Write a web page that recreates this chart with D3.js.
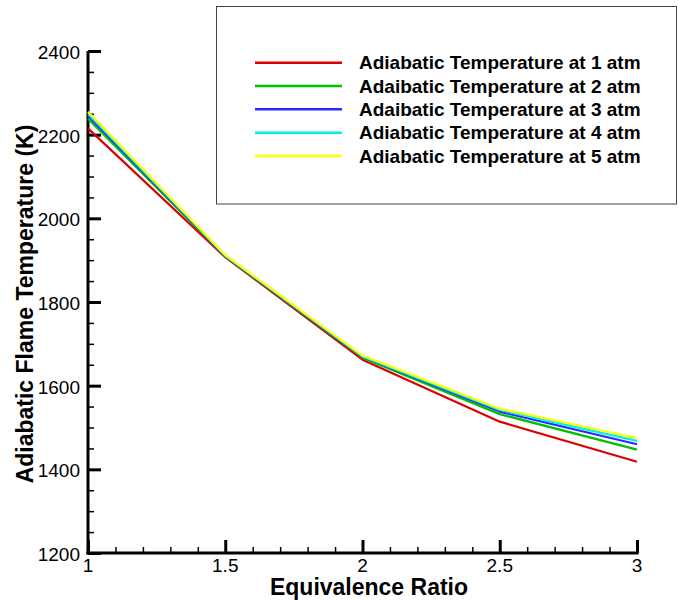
<!DOCTYPE html>
<html>
<head>
<meta charset="utf-8">
<script src="https://cdn.jsdelivr.net/npm/d3@7"></script>
<style>
  html, body { margin: 0; padding: 0; background: #fff; }
  svg { display: block; font-family: "Liberation Sans", Arial, sans-serif; }
</style>
</head>
<body>
<svg id="chart" width="678" height="600"></svg>
<script>
const phi = [1, 1.5, 2, 2.5, 3];
const t1atm = [2215, 1907, 1662, 1514, 1418];
const t2atm = [2238, 1909, 1667, 1532, 1447];
const t3atm = [2245, 1910, 1669, 1538, 1460];
const t4atm = [2250, 1911, 1670, 1542, 1468];
const t5atm = [2255, 1912, 1672, 1545, 1475];
const seriesNames = [
  "Adiabatic Temperature at 1 atm",
  "Adaibatic Temperature at 2 atm",
  "Adaibatic Temperature at 3 atm",
  "Adiabatic Temperature at 4 atm",
  "Adiabatic Temperature at 5 atm"
];
const seriesColors = ["#dd0000", "#00c000", "#2a2aff", "#00f0f0", "#ffff00"];
const xTicks = [1, 1.5, 2, 2.5, 3];
const yTicks = [1200, 1400, 1600, 1800, 2000, 2200, 2400];
const xTitle = "Equivalence Ratio";
const yTitle = "Adiabatic Flame Temperature (K)";

const series = [t1atm, t2atm, t3atm, t4atm, t5atm].map((v, i) => ({
  name: seriesNames[i], color: seriesColors[i],
  pts: v.map((yv, j) => ({x: phi[j], y: yv}))
}));

const svg = d3.select("#chart");
const FONT = '"Liberation Sans", Arial, sans-serif';
const mL = 88, mR = 637, mT = 51, mB = 553;
const x = d3.scaleLinear().domain([1, 3]).range([mL, mR]);
const y = d3.scaleLinear().domain([1200, 2400]).range([mB, mT]);

// minor ticks
const xMinor = d3.range(1, 3.0001, 0.1).filter(v => Math.abs(v * 2 - Math.round(v * 2)) > 1e-6);
const yMinor = d3.range(1200, 2400.1, 50).filter(v => v % 200 !== 0);

const gx = svg.append("g").attr("transform", `translate(0,${mB})`);
gx.append("g").call(d3.axisTop(x).tickValues(xMinor).tickSize(6).tickFormat(""))
  .call(g => g.select(".domain").remove())
  .call(g => g.selectAll("line").attr("stroke", "#000").attr("stroke-width", 1.5));
gx.append("g").call(d3.axisTop(x).tickValues(xTicks).tickSize(13).tickFormat(""))
  .call(g => g.select(".domain").remove())
  .call(g => g.selectAll("line").attr("stroke", "#000").attr("stroke-width", 3));
gx.append("g").selectAll("text").data(xTicks).join("text")
  .attr("x", d => x(d)).attr("y", 19)
  .attr("text-anchor", "middle")
  .attr("font-family", FONT)
  .attr("font-size", 19)
  .attr("fill", "#000")
  .text(d => d3.format("")(d));

const gy = svg.append("g").attr("transform", `translate(${mL},0)`);
gy.append("g").call(d3.axisRight(y).tickValues(yMinor).tickSize(6).tickFormat(""))
  .call(g => g.select(".domain").remove())
  .call(g => g.selectAll("line").attr("stroke", "#000").attr("stroke-width", 1.5));
gy.append("g").call(d3.axisRight(y).tickValues(yTicks).tickSize(13).tickFormat(""))
  .call(g => g.select(".domain").remove())
  .call(g => g.selectAll("line").attr("stroke", "#000").attr("stroke-width", 3));
gy.append("g").selectAll("text").data(yTicks).join("text")
  .attr("x", -8).attr("y", d => y(d) + 8)
  .attr("text-anchor", "end")
  .attr("font-family", FONT)
  .attr("font-size", 19)
  .attr("fill", "#000")
  .text(d => d);

// axis lines
svg.append("line").attr("x1", mL).attr("x2", mL).attr("y1", mT).attr("y2", mB + 1.5)
  .attr("stroke", "#000").attr("stroke-width", 3);
svg.append("line").attr("x1", mL - 1.5).attr("x2", mR + 1.5).attr("y1", mB).attr("y2", mB)
  .attr("stroke", "#000").attr("stroke-width", 3);

// lines
const line = d3.line().x(d => x(d.x)).y(d => y(d.y));
svg.append("g").selectAll("path").data(series).join("path")
  .attr("d", d => line(d.pts))
  .attr("fill", "none")
  .attr("stroke", d => d.color)
  .attr("stroke-width", 2.2)
  .attr("stroke-linejoin", "round");

// titles
svg.append("text").attr("x", 369).attr("y", 595)
  .attr("text-anchor", "middle").attr("font-size", 23).attr("font-weight", "bold")
  .text(xTitle);
svg.append("text").attr("transform", "translate(33,304) rotate(-90)")
  .attr("text-anchor", "middle").attr("font-size", 23).attr("font-weight", "bold")
  .text(yTitle);

// legend
const lg = svg.append("g");
lg.append("rect").attr("x", 216.5).attr("y", 6.5).attr("width", 460).attr("height", 197.5)
  .attr("fill", "#fff").attr("stroke", "#444").attr("stroke-width", 1);
const ly = d3.scalePoint().domain(seriesNames).range([62.7, 156]);
const items = lg.selectAll(".item").data(series).join("g").attr("class", "item")
  .attr("transform", d => `translate(0,${ly(d.name)})`);
items.append("line").attr("x1", 255).attr("x2", 342)
  .attr("stroke", d => d.color).attr("stroke-width", 2.5);
items.append("text").attr("x", 359).attr("y", 6.5)
  .attr("font-size", 19).attr("font-weight", "bold")
  .text(d => d.name);
</script>
</body>
</html>
